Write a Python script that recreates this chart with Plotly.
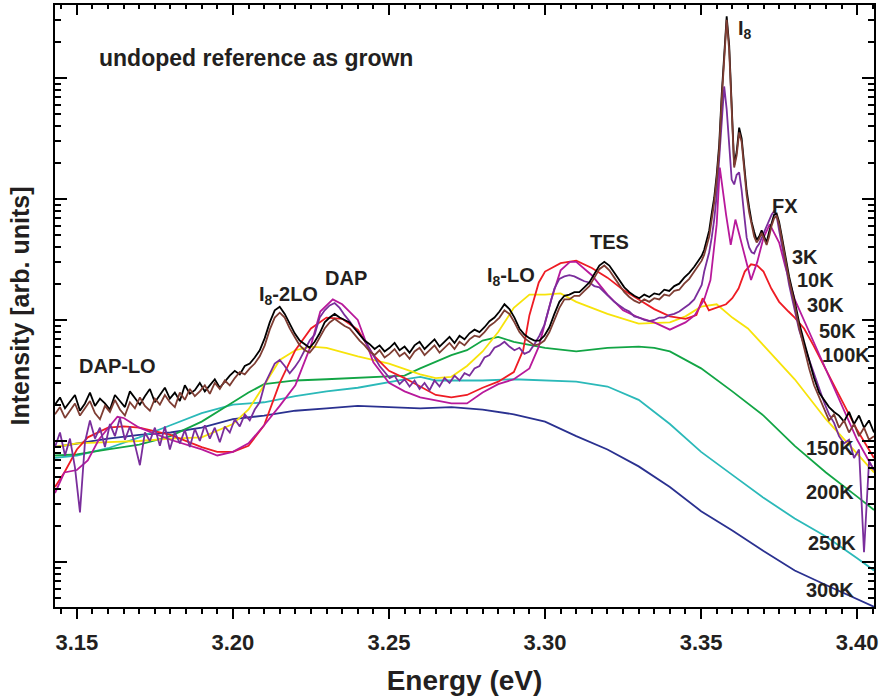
import numpy as np
import plotly.graph_objects as go

# ---------------- energy grid of the noisy low-temperature spectra (eV) ----------------
E_A = [3.1430, 3.1446, 3.1462, 3.1478, 3.1494, 3.1510, 3.1526, 3.1542, 3.1558, 3.1574,
       3.1590, 3.1606, 3.1622, 3.1638, 3.1654, 3.1670, 3.1686, 3.1702, 3.1718, 3.1734,
       3.1750, 3.1766, 3.1782, 3.1798, 3.1814, 3.1830, 3.1846, 3.1862, 3.1878, 3.1894,
       3.1910, 3.1926, 3.1942, 3.1958, 3.1974, 3.1990, 3.2006, 3.2022, 3.2038, 3.2054,
       3.2070, 3.2086, 3.2102, 3.2118, 3.2134, 3.2150, 3.2166, 3.2182, 3.2198, 3.2214,
       3.2230, 3.2246, 3.2262, 3.2278, 3.2294, 3.2310, 3.2326, 3.2342, 3.2358, 3.2374,
       3.2390, 3.2406, 3.2422, 3.2438, 3.2454, 3.2470, 3.2486, 3.2502, 3.2518, 3.2534,
       3.2550, 3.2566, 3.2582, 3.2598, 3.2614, 3.2630, 3.2646, 3.2662, 3.2678, 3.2694,
       3.2710, 3.2726, 3.2742, 3.2758, 3.2774, 3.2790, 3.2806, 3.2822, 3.2838, 3.2854,
       3.2870, 3.2886, 3.2902, 3.2918, 3.2934, 3.2950, 3.2966, 3.2982, 3.2998, 3.3014,
       3.3030, 3.3046, 3.3062, 3.3078, 3.3094, 3.3110, 3.3126, 3.3142, 3.3158, 3.3174,
       3.3190, 3.3206, 3.3222, 3.3238, 3.3254, 3.3270, 3.3286, 3.3302, 3.3318, 3.3334,
       3.3350, 3.3366, 3.3382, 3.3398, 3.3414, 3.3430, 3.3446, 3.3462, 3.3478, 3.3494]
E_B = [3.3502, 3.3510, 3.3518, 3.3526, 3.3534, 3.3542, 3.3550, 3.3558, 3.3566, 3.3574,
       3.3582, 3.3590, 3.3598, 3.3606, 3.3614, 3.3622, 3.3630, 3.3638, 3.3646, 3.3654,
       3.3662, 3.3670, 3.3678, 3.3686, 3.3694, 3.3702, 3.3710, 3.3718, 3.3726, 3.3734,
       3.3742, 3.3750, 3.3758, 3.3766, 3.3774, 3.3782]
E_C = [3.3798, 3.3814, 3.3830, 3.3846, 3.3862, 3.3878, 3.3894, 3.3910, 3.3926, 3.3942,
       3.3958, 3.3974, 3.3990, 3.4006, 3.4022, 3.4038, 3.4054]

# log10 of PL intensity (arb. units)
logI_3K_A = [1.30, 1.36, 1.27, 1.33, 1.38, 1.25, 1.31, 1.40, 1.29, 1.35,
             1.31, 1.26, 1.38, 1.33, 1.28, 1.41, 1.35, 1.30, 1.37, 1.43,
             1.32, 1.38, 1.44, 1.35, 1.40, 1.33, 1.46, 1.39, 1.42, 1.48,
             1.41, 1.46, 1.51, 1.44, 1.49, 1.54, 1.58, 1.55, 1.62, 1.64,
             1.69, 1.75, 1.85, 1.98, 2.08, 2.11, 2.05, 1.97, 1.89, 1.83,
             1.80, 1.77, 1.82, 1.89, 1.98, 2.02, 2.05, 2.02, 2.00, 1.98,
             1.93, 1.88, 1.83, 1.80, 1.76, 1.79, 1.74, 1.77, 1.81, 1.75,
             1.78, 1.73, 1.79, 1.82, 1.76, 1.80, 1.84, 1.78, 1.82, 1.86,
             1.81, 1.87, 1.84, 1.89, 1.92, 1.90, 1.94, 1.99, 2.02, 2.07,
             2.13, 2.09, 2.02, 1.93, 1.88, 1.85, 1.83, 1.83, 1.87, 1.94,
             2.05, 2.15, 2.20, 2.21, 2.23, 2.23, 2.27, 2.31, 2.38, 2.45,
             2.48, 2.45, 2.39, 2.33, 2.27, 2.23, 2.20, 2.18, 2.21, 2.19,
             2.22, 2.21, 2.25, 2.24, 2.28, 2.30, 2.35, 2.39, 2.44, 2.50]
logI_3K_B = [2.53, 2.58, 2.66, 2.74, 2.88, 3.01, 3.20, 3.45, 3.86, 4.23,
             4.51, 4.27, 3.69, 3.28, 3.39, 3.59, 3.50, 3.28, 3.07, 2.93,
             2.81, 2.73, 2.66, 2.69, 2.74, 2.69, 2.64, 2.73, 2.81, 2.87,
             2.88, 2.81, 2.70, 2.58, 2.48, 2.36]
logI_3K_C = [2.18, 1.98, 1.82, 1.67, 1.52, 1.40, 1.34, 1.28, 1.24, 1.21,
             1.16, 1.24, 1.14, 1.21, 1.11, 1.17, 1.07]

logI_10K_A = [1.22, 1.28, 1.19, 1.25, 1.31, 1.21, 1.27, 1.33, 1.23, 1.18,
              1.29, 1.24, 1.34, 1.26, 1.21, 1.32, 1.27, 1.36, 1.29, 1.25,
              1.35, 1.30, 1.38, 1.32, 1.28, 1.40, 1.34, 1.43, 1.37, 1.41,
              1.46, 1.39, 1.48, 1.43, 1.50, 1.46, 1.52, 1.57, 1.55, 1.60,
              1.64, 1.70, 1.79, 1.92, 2.02, 2.06, 2.02, 1.93, 1.86, 1.79,
              1.75, 1.73, 1.78, 1.85, 1.93, 1.98, 2.01, 1.98, 1.95, 1.93,
              1.88, 1.83, 1.79, 1.74, 1.71, 1.75, 1.69, 1.72, 1.76, 1.70,
              1.73, 1.68, 1.74, 1.77, 1.71, 1.75, 1.79, 1.73, 1.77, 1.81,
              1.76, 1.82, 1.79, 1.84, 1.87, 1.86, 1.90, 1.95, 1.98, 2.02,
              2.08, 2.05, 1.98, 1.90, 1.85, 1.82, 1.79, 1.80, 1.83, 1.90,
              2.00, 2.10, 2.17, 2.17, 2.20, 2.20, 2.24, 2.28, 2.35, 2.42,
              2.45, 2.41, 2.35, 2.29, 2.23, 2.19, 2.16, 2.14, 2.17, 2.15,
              2.18, 2.17, 2.21, 2.20, 2.24, 2.25, 2.30, 2.34, 2.40, 2.45]
logI_10K_B = [2.49, 2.54, 2.61, 2.69, 2.83, 2.97, 3.16, 3.40, 3.82, 4.19,
              4.48, 4.23, 3.67, 3.26, 3.36, 3.55, 3.47, 3.26, 3.03, 2.89,
              2.78, 2.69, 2.64, 2.67, 2.72, 2.67, 2.62, 2.69, 2.78, 2.84,
              2.86, 2.79, 2.68, 2.55, 2.45, 2.33]
logI_10K_C = [2.15, 1.94, 1.77, 1.60, 1.46, 1.36, 1.26, 1.17, 1.22, 1.11,
              1.17, 1.07, 1.14, 1.04, 1.11, 1.01, 1.04]

logI_30K_A = [0.95, 1.07, 0.88, 1.02, 0.78, 0.41, 0.99, 1.17, 1.02, 1.11,
              0.95, 1.14, 1.04, 1.19, 1.01, 1.12, 0.97, 0.80, 1.07, 1.00,
              1.11, 0.96, 1.12, 0.93, 1.07, 0.98, 1.09, 0.95, 1.10, 1.00,
              1.13, 1.02, 1.11, 0.99, 1.12, 1.07, 1.18, 1.12, 1.22, 1.17,
              1.26, 1.32, 1.47, 1.55, 1.64, 1.67, 1.62, 1.56, 1.61, 1.67,
              1.75, 1.83, 1.88, 2.02, 2.08, 2.12, 2.14, 2.10, 2.04, 1.99,
              1.93, 1.88, 1.83, 1.76, 1.69, 1.62, 1.57, 1.52, 1.54, 1.47,
              1.51, 1.45, 1.50, 1.43, 1.48, 1.42, 1.50, 1.45, 1.52, 1.48,
              1.54, 1.50, 1.56, 1.54, 1.60, 1.62, 1.69, 1.71, 1.77, 1.79,
              1.82, 1.78, 1.75, 1.77, 1.72, 1.74, 1.80, 1.87, 1.96, 2.12,
              2.26, 2.34, 2.36, 2.37, 2.36, 2.34, 2.32, 2.31, 2.28, 2.27,
              2.23, 2.19, 2.15, 2.12, 2.09, 2.07, 2.03, 2.02, 2.00, 1.99,
              2.00, 2.02, 2.02, 2.04, 2.05, 2.07, 2.10, 2.13, 2.17, 2.25]
logI_30K_B = [2.29, 2.40, 2.48, 2.56, 2.68, 2.83, 3.03, 3.32, 3.67, 3.93,
              3.74, 3.40, 3.16, 3.12, 3.20, 3.22, 3.07, 2.87, 2.68, 2.60,
              2.56, 2.55, 2.60, 2.63, 2.68, 2.73, 2.78, 2.82, 2.87, 2.90,
              2.86, 2.74, 2.64, 2.51, 2.41, 2.29]
logI_30K_C = [2.10, 1.92, 1.79, 1.67, 1.55, 1.44, 1.32, 1.22, 1.15, 1.04,
              0.98, 1.01, 0.86, 0.93, 0.08, 0.83, 0.76]

# ---------------- smoother spectra at higher temperature ----------------
E_50K = [3.143, 3.146, 3.150, 3.1535, 3.157, 3.160, 3.163, 3.165, 3.170, 3.180,
         3.190, 3.195, 3.200, 3.205, 3.210, 3.215, 3.220, 3.225, 3.228, 3.232,
         3.235, 3.240, 3.245, 3.250, 3.255, 3.260, 3.270, 3.275, 3.280, 3.285,
         3.290, 3.295, 3.298, 3.302, 3.305, 3.308, 3.310, 3.315, 3.320, 3.325,
         3.330, 3.335, 3.340, 3.345, 3.348, 3.351, 3.353, 3.355, 3.356, 3.358,
         3.3595, 3.361, 3.363, 3.366, 3.368, 3.370, 3.372, 3.375, 3.377, 3.380,
         3.385, 3.390, 3.395, 3.400, 3.4054]
logI_50K = [0.57, 0.74, 0.76, 0.84, 1.01, 1.11, 1.20, 1.19, 1.11, 1.01,
            0.93, 0.88, 0.91, 0.98, 1.13, 1.29, 1.46, 1.79, 2.07, 2.17,
            2.13, 2.00, 1.65, 1.48, 1.41, 1.36, 1.31, 1.31, 1.40, 1.47,
            1.51, 1.60, 1.78, 2.17, 2.41, 2.48, 2.48, 2.37, 2.21, 2.08,
            2.02, 1.98, 1.92, 1.98, 2.04, 2.17, 2.33, 2.79, 3.26, 2.87,
            2.62, 2.83, 2.62, 2.33, 2.48, 2.68, 2.79, 2.64, 2.44, 2.17,
            1.88, 1.59, 1.30, 1.01, 0.76]

E_100K = [3.143, 3.146, 3.150, 3.1535, 3.160, 3.165, 3.170, 3.180, 3.190, 3.195,
          3.200, 3.205, 3.210, 3.215, 3.220, 3.225, 3.230, 3.235, 3.240, 3.245,
          3.250, 3.255, 3.260, 3.265, 3.270, 3.275, 3.280, 3.285, 3.290, 3.293,
          3.295, 3.298, 3.300, 3.305, 3.310, 3.315, 3.320, 3.325, 3.330, 3.335,
          3.340, 3.345, 3.3485, 3.3505, 3.3525, 3.355, 3.358, 3.360, 3.362, 3.364,
          3.366, 3.368, 3.370, 3.3725, 3.375, 3.378, 3.380, 3.383, 3.386, 3.390,
          3.395, 3.400, 3.4054]
logI_100K = [0.62, 0.74, 0.93, 1.03, 1.11, 1.12, 1.11, 1.05, 0.95, 0.91,
             0.91, 0.96, 1.13, 1.48, 1.75, 1.93, 2.02, 2.01, 1.92, 1.71,
             1.58, 1.52, 1.45, 1.38, 1.36, 1.38, 1.44, 1.49, 1.57, 1.75,
             2.04, 2.31, 2.40, 2.47, 2.49, 2.43, 2.35, 2.25, 2.17, 2.09,
             2.03, 2.01, 2.04, 2.18, 2.08, 2.10, 2.13, 2.18, 2.26, 2.40,
             2.46, 2.45, 2.40, 2.26, 2.15, 2.07, 2.02, 1.93, 1.79, 1.59,
             1.34, 1.09, 0.86]

E_150K = [3.143, 3.150, 3.160, 3.170, 3.180, 3.190, 3.200, 3.205, 3.210, 3.215,
          3.220, 3.225, 3.230, 3.240, 3.250, 3.260, 3.265, 3.270, 3.275, 3.280,
          3.285, 3.290, 3.295, 3.300, 3.305, 3.310, 3.320, 3.330, 3.340, 3.345,
          3.350, 3.355, 3.360, 3.365, 3.370, 3.380, 3.390, 3.400, 3.4054]
logI_150K = [0.95, 0.98, 0.99, 1.00, 1.02, 1.03, 1.14, 1.26, 1.46, 1.67,
             1.75, 1.78, 1.77, 1.70, 1.64, 1.55, 1.52, 1.53, 1.62, 1.74,
             1.90, 2.10, 2.21, 2.21, 2.22, 2.15, 2.05, 1.97, 1.98, 2.03,
             2.11, 2.13, 2.02, 1.93, 1.79, 1.51, 1.18, 0.89, 0.74]

E_200K = [3.143, 3.150, 3.160, 3.170, 3.180, 3.190, 3.200, 3.205, 3.210, 3.220,
          3.230, 3.240, 3.250, 3.255, 3.260, 3.270, 3.275, 3.280, 3.285, 3.290,
          3.300, 3.310, 3.320, 3.330, 3.335, 3.340, 3.345, 3.350, 3.360, 3.370,
          3.380, 3.390, 3.400, 3.4054]
logI_200K = [0.88, 0.89, 0.93, 0.97, 1.04, 1.16, 1.32, 1.40, 1.47, 1.50,
             1.51, 1.52, 1.53, 1.54, 1.60, 1.71, 1.75, 1.83, 1.86, 1.82,
             1.77, 1.74, 1.77, 1.78, 1.77, 1.74, 1.67, 1.60, 1.41, 1.21,
             0.96, 0.74, 0.54, 0.43]

E_250K = [3.143, 3.150, 3.160, 3.170, 3.180, 3.190, 3.200, 3.210, 3.220, 3.230,
          3.240, 3.250, 3.255, 3.260, 3.265, 3.270, 3.280, 3.290, 3.300, 3.310,
          3.320, 3.330, 3.340, 3.350, 3.360, 3.370, 3.380, 3.390, 3.400, 3.4054]
logI_250K = [0.86, 0.88, 0.94, 1.03, 1.13, 1.23, 1.30, 1.32, 1.37, 1.41,
             1.44, 1.49, 1.51, 1.53, 1.50, 1.50, 1.50, 1.51, 1.50, 1.49,
             1.45, 1.34, 1.14, 0.91, 0.72, 0.53, 0.36, 0.21, 0.03, -0.07]

E_300K = [3.143, 3.150, 3.160, 3.170, 3.180, 3.190, 3.200, 3.210, 3.220, 3.230,
          3.240, 3.250, 3.260, 3.270, 3.280, 3.290, 3.300, 3.310, 3.320,
          3.330, 3.340, 3.350, 3.360, 3.370, 3.380, 3.390, 3.400, 3.4054]
logI_300K = [0.95, 0.98, 1.02, 1.05, 1.07, 1.11, 1.18, 1.21, 1.25, 1.27,
             1.29, 1.28, 1.27, 1.28, 1.26, 1.22, 1.16, 1.04, 0.93,
             0.79, 0.62, 0.42, 0.26, 0.09, -0.07, -0.19, -0.31, -0.37]

E_FINE = E_A + E_B + E_C
series = [
    ("300K", E_300K, logI_300K, "#2a3190"),
    ("250K", E_250K, logI_250K, "#2bb9b9"),
    ("200K", E_200K, logI_200K, "#12a545"),
    ("150K", E_150K, logI_150K, "#f7e30a"),
    ("100K", E_100K, logI_100K, "#ee1c24"),
    ("50K", E_50K, logI_50K, "#b8199b"),
    ("30K", E_FINE, logI_30K_A + logI_30K_B + logI_30K_C, "#7a2e9c"),
    ("3K", E_FINE, logI_3K_A + logI_3K_B + logI_3K_C, "#000000"),
    ("10K", E_FINE, logI_10K_A + logI_10K_B + logI_10K_C, "#7e3d33"),
]

TEXT = "#231f20"
FONT = "Liberation Sans, Arial, sans-serif"

fig = go.Figure()
for name, ex, ly, col in series:
    fig.add_trace(go.Scatter(x=ex, y=10 ** np.array(ly), mode="lines", name=name,
                             line=dict(color=col, width=1.8), showlegend=False))

# invisible copy of one spectrum on the mirrored (top / right) axes so that they are drawn
fig.add_trace(go.Scatter(x=E_300K, y=10 ** np.array(logI_300K), xaxis="x2", yaxis="y2",
                         mode="lines", line=dict(width=0, color="rgba(0,0,0,0)"),
                         opacity=0, hoverinfo="skip", showlegend=False))

X_RANGE = [3.1430, 3.4054]
Y_RANGE = [-0.372, 4.603]

common_x = dict(range=X_RANGE, tickmode="linear", tick0=3.15, dtick=0.05, tickwidth=2,
                tickcolor="black", showline=True, linewidth=2, linecolor="black",
                showgrid=False, zeroline=False)
common_y = dict(type="log", range=Y_RANGE, dtick=1, tick0=0, ticks="inside", ticklen=12,
                tickwidth=2, tickcolor="black", showticklabels=False, showline=True,
                linewidth=2, linecolor="black", showgrid=False, zeroline=False,
                minor=dict(dtick="D1", ticks="inside", ticklen=6, tickwidth=1.5,
                           tickcolor="black", showgrid=False))

fig.update_layout(
    width=881, height=697,
    margin=dict(l=55, r=3, t=5, b=90),
    paper_bgcolor="white", plot_bgcolor="white",
    font=dict(family=FONT, color=TEXT, size=20, weight="bold"),
    xaxis=dict(**common_x, tickformat=".2f", ticks="outside", ticklen=10, ticklabelstandoff=5,
               ticklabeloverflow="allow",
               tickfont=dict(size=22, family=FONT, color=TEXT, weight="bold"),
               minor=dict(dtick=0.005, tick0=3.15, ticks="outside", ticklen=5, tickwidth=1.5,
                          tickcolor="black", showgrid=False),
               title=dict(text="Energy (eV)", font=dict(size=28, family=FONT, color=TEXT, weight="bold"),
                          standoff=16)),
    xaxis2=dict(**common_x, overlaying="x", side="top", anchor="y2", ticks="inside", ticklen=10,
                showticklabels=False,
                minor=dict(dtick=0.005, tick0=3.15, ticks="inside", ticklen=4, tickwidth=1.5,
                           tickcolor="black", showgrid=False)),
    yaxis=dict(**common_y,
               title=dict(text="Intensity [arb. units]",
                          font=dict(size=25, family=FONT, color=TEXT, weight="bold"), standoff=16)),
    yaxis2=dict(**common_y, overlaying="y", side="right", anchor="x2"),
)

labels = [
    ("undoped reference as grown", 0.051, 0.912, "left", 23),
    ("I<sub>8</sub>", 0.831, 0.960, "left", 20),
    ("FX", 0.891, 0.666, "center", 20),
    ("TES", 0.677, 0.606, "center", 20),
    ("DAP", 0.355, 0.547, "center", 20),
    ("I<sub>8</sub>-2LO", 0.247, 0.518, "left", 20),
    ("I<sub>8</sub>-LO", 0.525, 0.549, "left", 20),
    ("DAP-LO", 0.0766, 0.400, "center", 20),
    ("3K", 0.916, 0.581, "center", 20),
    ("10K", 0.929, 0.543, "center", 20),
    ("30K", 0.941, 0.502, "center", 20),
    ("50K", 0.955, 0.458, "center", 20),
    ("100K", 0.966, 0.419, "center", 20),
    ("150K", 0.946, 0.264, "center", 20),
    ("200K", 0.946, 0.191, "center", 20),
    ("250K", 0.949, 0.106, "center", 20),
    ("300K", 0.946, 0.028, "center", 20),
]
for txt, xp, yp, anc, fs in labels:
    fig.add_annotation(text=txt, x=xp, y=yp, xref="paper", yref="paper", xanchor=anc,
                       yanchor="middle", showarrow=False,
                       font=dict(size=fs, family=FONT, color=TEXT, weight="bold"))

fig.write_html("out.html")
